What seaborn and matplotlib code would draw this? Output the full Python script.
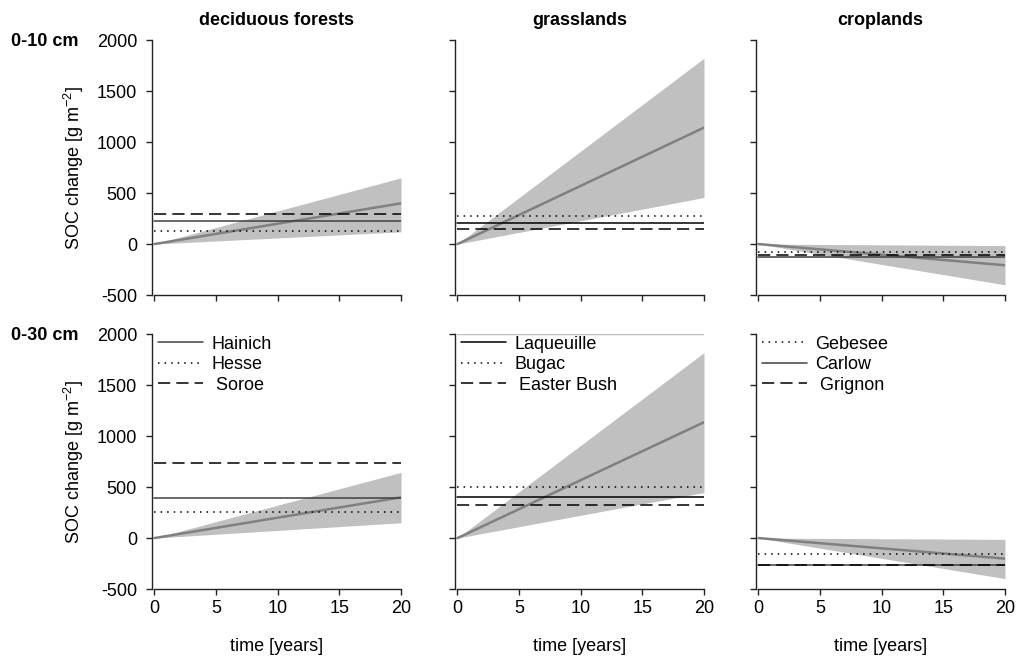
import pandas as pd
import seaborn as sns
from matplotlib import pyplot as plt

# time axis of the projection (straight lines, start and end point)
years = [0, 20]

row_labels = ['0-10 cm', '0-30 cm']
col_titles = ['deciduous forests', 'grasslands', 'croplands']

# projected SOC change at year 20 (mean and range), per land use
mean_end_10 = [400, 1143, -208]
upper_end_10 = [650, 1824, -15]
lower_end_10 = [120, 457, -400]
mean_end_30 = [400, 1137, -202]
upper_end_30 = [645, 1820, -13]
lower_end_30 = [150, 447, -398]

# observed SOC change at the sites
sites = [['Hainich', 'Hesse', 'Soroe'],
         ['Laqueuille', 'Bugac', 'Easter Bush'],
         ['Gebesee', 'Carlow', 'Grignon']]
site_soc_10 = [[227, 128, 295], [209, 271, 143], [-78, -131, -105]]
site_soc_30 = [[398, 258, 738], [402, 500, 327], [-153, -268, -265]]

dotted = (0, (1, 3.3))
dashed = (0, (8, 4))
site_styles = [['-', dotted, dashed], ['-', dotted, dashed], [dotted, '-', dashed]]
solid_colors = ['#404040', 'black', '#404040']

sns.set_style('ticks')
plt.rcParams['font.family'] = ['Liberation Sans', 'DejaVu Sans']
plt.rcParams['mathtext.default'] = 'regular'
plt.rcParams['axes.unicode_minus'] = False
plt.rcParams['font.size'] = 13
for key in ['text.color', 'axes.labelcolor', 'xtick.labelcolor', 'ytick.labelcolor']:
    plt.rcParams[key] = 'black'

W, H = 1016, 663
fig = plt.figure(figsize=(W / 100, H / 100), dpi=100)

col_left = [152, 455, 756]
row_top = [40.3, 334.3]
ax_w, ax_h = 249, 254.7

means = [mean_end_10, mean_end_30]
uppers = [upper_end_10, upper_end_30]
lowers = [lower_end_10, lower_end_30]
site_soc = [site_soc_10, site_soc_30]

for r in range(2):
    for c in range(3):
        ax = fig.add_axes([col_left[c] / W, 1 - (row_top[r] + ax_h) / H, ax_w / W, ax_h / H])
        df = pd.DataFrame({'time': years,
                           'mean': [0, means[r][c]],
                           'lower': [0, lowers[r][c]],
                           'upper': [0, uppers[r][c]]})
        ax.fill_between(df['time'], df['lower'], df['upper'], color='#c0c0c0', lw=0)
        sns.lineplot(data=df, x='time', y='mean', ax=ax, color='#808080', lw=1.8)
        for name, val, ls in zip(sites[c], site_soc[r][c], site_styles[c]):
            color = solid_colors[c] if ls == '-' else 'black'
            label = name if ls == '-' or name in ('Hesse', 'Bugac', 'Gebesee') else ' ' + name
            ax.plot(df['time'], [val, val], ls=ls, color=color, lw=1.1, label=label)
        if r == 1 and c == 1:
            # thin grey line along the top of the grassland panel
            ax.plot(df['time'], [2000, 2000], color='#bdbdbd', lw=1)

        ax.set_xlim(-0.2, 20)
        ax.set_ylim(-500, 2000)
        ax.set_xticks([0, 5, 10, 15, 20])
        ax.set_yticks([-500, 0, 500, 1000, 1500, 2000])
        sns.despine(ax=ax)
        ax.spines['bottom'].set_bounds(0, 20)
        for s in ['left', 'bottom']:
            ax.spines[s].set_color('#222222')
            ax.spines[s].set_linewidth(1)
        ax.tick_params(axis='both', direction='out', length=4.3, width=1, color='#222222',
                       labelsize=13, labelcolor='black')
        ax.tick_params(axis='y', pad=6.5)
        ax.tick_params(axis='x', pad=3.7)

        if c == 0:
            ax.set_ylabel('SOC change [g m$^{-2}$]', fontsize=13, labelpad=8)
        else:
            ax.set_ylabel('')
            ax.set_yticklabels([])
        if r == 1:
            ax.set_xlabel('time [years]', fontsize=13, labelpad=15)
            ax.legend(loc='upper left', bbox_to_anchor=(0.025, 0.995), frameon=False,
                      borderaxespad=0, borderpad=0, handlelength=2.5,
                      handletextpad=0.45, labelspacing=0.2, fontsize=13)
        else:
            ax.set_xlabel('')
            ax.set_xticklabels([])
            ax.set_title(col_titles[c], fontsize=13, fontweight='bold', pad=11)

for r in range(2):
    fig.text(11 / W, 1 - (row_top[r] + 1) / H, row_labels[r], fontsize=13,
             fontweight='bold', ha='left', va='center')

fig.savefig('out.png', dpi=100)
